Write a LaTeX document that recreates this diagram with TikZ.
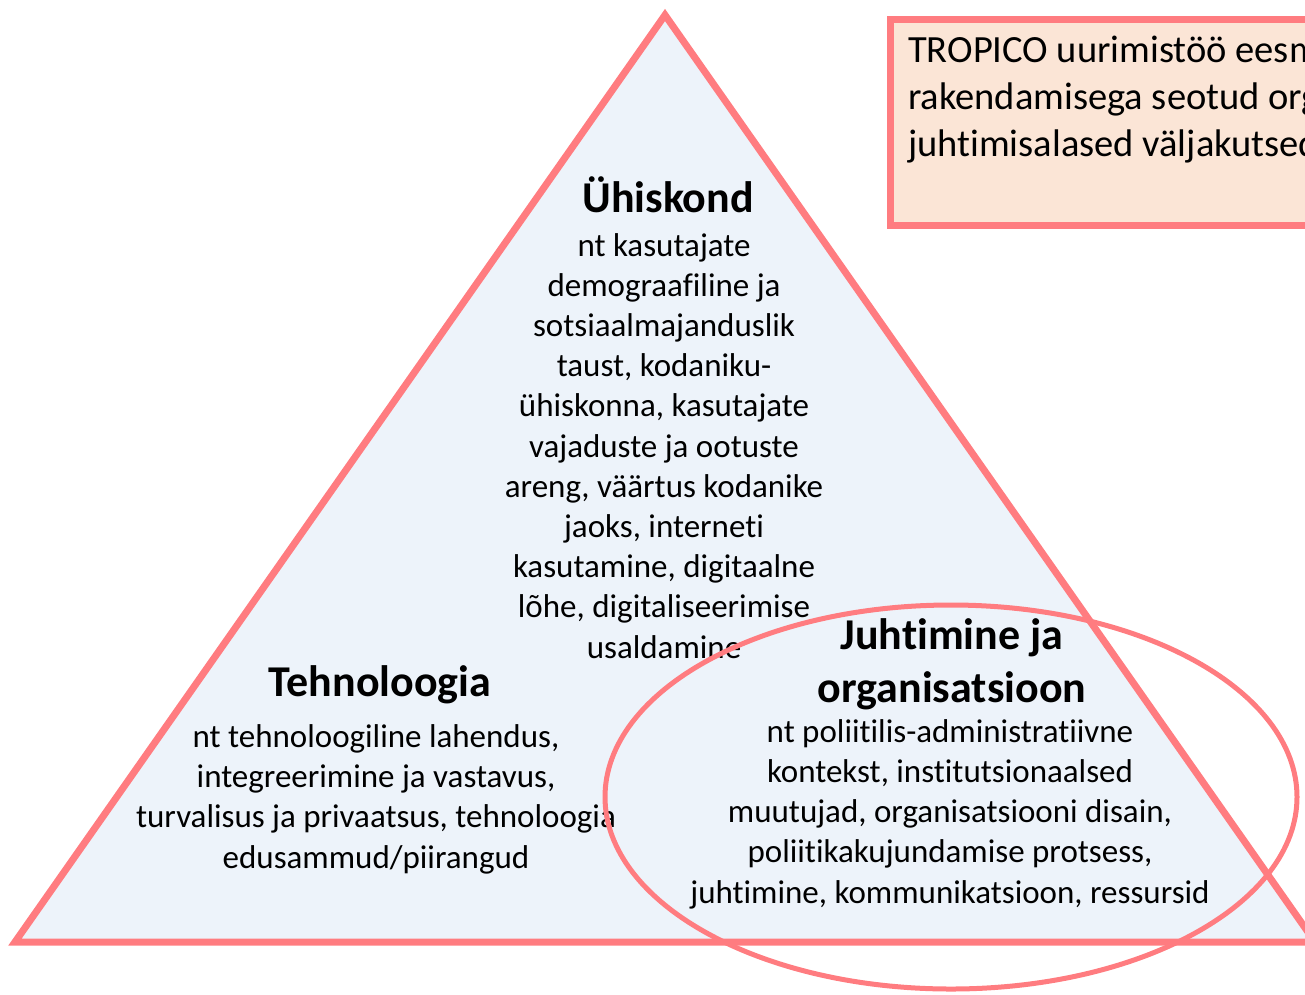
\documentclass[tikz,border=0pt]{standalone}
\usepackage{fontspec}
\setmainfont{Carlito}[Ligatures=NoCommon]
\usetikzlibrary{positioning}

\definecolor{koral}{HTML}{FF7C80}
\definecolor{helesinine}{HTML}{EDF3FA}
\definecolor{virsik}{HTML}{FBE5D6}

\begin{document}
\begin{tikzpicture}[
    x = 1pt,
    y = -1pt,
    pealkiri/.style = {font=\fontsize{44}{53}\selectfont\bfseries, align=center, inner sep=0pt, anchor=base},
    sisu/.style = {font=\fontsize{33}{40.2}\selectfont, align=center, inner sep=0pt, anchor=base},
    ]

    \useasboundingbox (0,0) rectangle (1305,994);
    \clip (0,0) rectangle (1305,994);

    % kolmnurk
    \coordinate (tipp) at (665,15);
    \coordinate (vasak) at (15,942);
    \coordinate (parem) at (1315,942);
    \draw[koral, fill=helesinine, line width=7pt] (tipp) -- (vasak) -- (parem) -- cycle;

    % kast paremal ylal
    \node[draw=koral, fill=virsik, line width=7pt, minimum width=460pt, minimum height=206pt,
          anchor=north west, inner sep=0pt] (kast) at (887,16) {};
    \node[font=\fontsize{38.5}{47}\selectfont, align=left, inner sep=0pt, anchor=base west] (eesmark) at (908,156)
        {TROPICO uurimistöö eesmärk\\rakendamisega seotud organisatsioonilised\\juhtimisalased väljakutsed};

    \node[pealkiri] (yhiskond) at (668,212) {Ühiskond};
    \node[sisu] (yhiskondsisu) at (664,658)
        {nt kasutajate\\demograafiline ja\\sotsiaalmajanduslik\\taust, kodaniku-\\ühiskonna, kasutajate\\vajaduste ja ootuste\\areng, väärtus kodanike\\jaoks, interneti\\kasutamine, digitaalne\\lõhe, digitaliseerimise\\usaldamine};

    \node[pealkiri] (tehnoloogia) at (380,696) {Tehnoloogia};
    \node[sisu] (tehnoloogiasisu) at (376,868)
        {nt tehnoloogiline lahendus,\\integreerimine ja vastavus,\\turvalisus ja privaatsus, tehnoloogia\\edusammud/piirangud};

    \node[pealkiri] (juhtimine) at (952,702) {Juhtimine ja\\organisatsioon};
    \node[sisu] (juhtimisesisu) at (950,903)
        {nt poliitilis-administratiivne\\kontekst, institutsionaalsed\\muutujad, organisatsiooni disain,\\poliitikakujundamise protsess,\\juhtimine, kommunikatsioon, ressursid};

    % ellips
    \draw[koral, line width=5pt] (951,797) ellipse [x radius=346pt, y radius=192pt];
\end{tikzpicture}
\end{document}
